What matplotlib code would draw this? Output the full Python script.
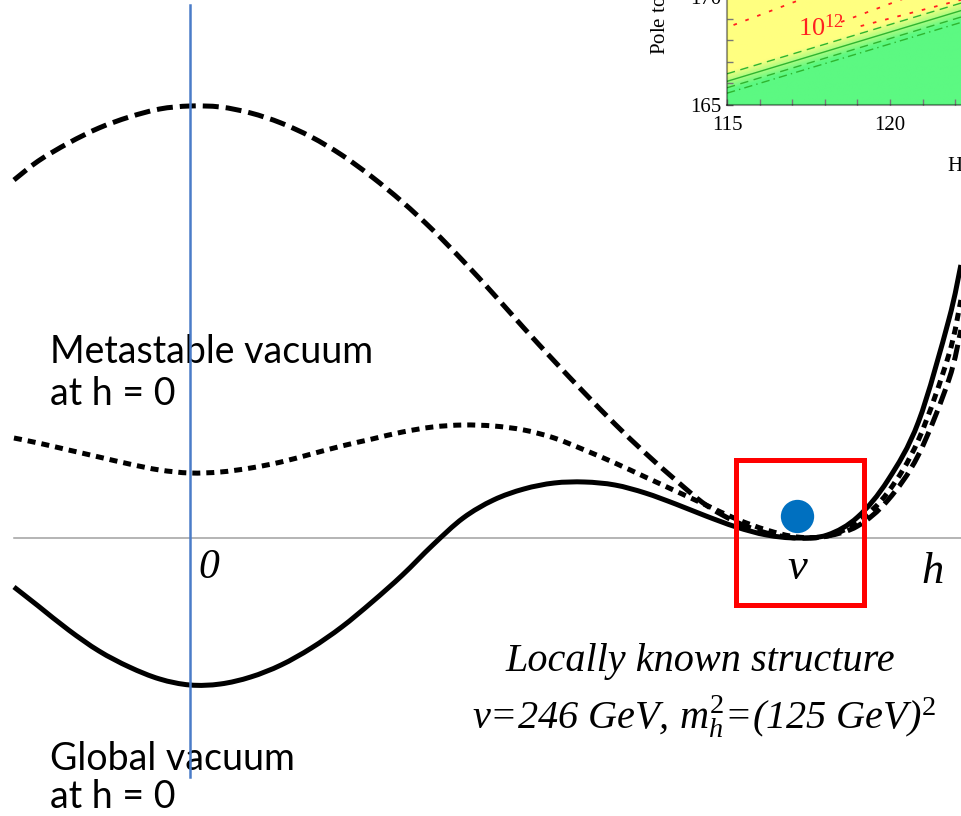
import numpy as np
import matplotlib
matplotlib.use('Agg')
import matplotlib.pyplot as plt
from matplotlib.colors import to_rgb
from matplotlib.patches import Rectangle, PathPatch
from matplotlib.path import Path

plt.rcParams['mathtext.fontset'] = 'custom'
plt.rcParams['mathtext.it'] = 'Liberation Serif:italic'
plt.rcParams['mathtext.rm'] = 'Liberation Serif'

# field value h in units of v, potential in arbitrary units (V(v) = 0)
h = np.array([-0.29, -0.25, -0.20, -0.15, -0.10, -0.05, 0.00, 0.05, 0.10, 0.15,
              0.20, 0.25, 0.30, 0.35, 0.40, 0.45, 0.50, 0.55, 0.60, 0.65,
              0.70, 0.75, 0.80, 0.85, 0.90, 0.95, 1.00, 1.05, 1.10, 1.15,
              1.20, 1.25, 1.27])

# global vacuum at h = 0
V_solid = np.array([-0.49, -0.68, -0.92, -1.13, -1.29, -1.41, -1.47, -1.46, -1.39, -1.27,
                    -1.10, -0.89, -0.64, -0.37, -0.07, 0.20, 0.38, 0.49, 0.55, 0.56,
                    0.53, 0.45, 0.34, 0.22, 0.11, 0.03, 0.00, 0.03, 0.21, 0.58,
                    1.16, 2.18, 2.73])

# metastable vacuum at h = 0
V_dotted = np.array([1.00, 0.95, 0.88, 0.81, 0.74, 0.68, 0.65, 0.66, 0.70, 0.76,
                     0.84, 0.92, 0.99, 1.06, 1.11, 1.13, 1.12, 1.08, 1.00, 0.88,
                     0.75, 0.61, 0.47, 0.33, 0.19, 0.08, 0.01, 0.02, 0.16, 0.46,
                     0.98, 1.83, 2.38])

# h = 0 is a maximum
V_dashed = np.array([3.58, 3.77, 3.95, 4.10, 4.21, 4.29, 4.32, 4.31, 4.25, 4.15,
                     4.01, 3.83, 3.61, 3.36, 3.08, 2.77, 2.44, 2.10, 1.77, 1.45,
                     1.14, 0.85, 0.58, 0.33, 0.16, 0.05, 0.00, 0.02, 0.12, 0.38,
                     0.83, 1.58, 2.08])

h_vev = 1.0
V_ball = 0.22

# inset (stability plot, cropped)
mh_ends = np.array([115.0, 122.2])
mt_green = np.array([166.1, 169.4])
green_offsets = [0.35, -0.30, -0.55]
green_styles = [(0, (6, 4)), (0, (6, 4)), (0, (6, 3, 1, 3))]
red_x = [np.array([115.2, 117.6]), np.array([118.5, 120.6]), np.array([119.1, 122.2])]
red_y = [np.array([168.72, 170.1]), np.array([168.86, 170.05]), np.array([168.67, 169.9])]


def smooth_path(x, y):
    # cubic Bezier pieces through the read points
    P = np.column_stack([x, y])
    Q = np.vstack([P[0], P, P[-1]])
    verts = [P[0]]
    codes = [Path.MOVETO]
    for i in range(len(P) - 1):
        p0, p1, p2, p3 = Q[i], Q[i + 1], Q[i + 2], Q[i + 3]
        verts += [p1 + (p2 - p0) / 6, p2 - (p3 - p1) / 6, p2]
        codes += [Path.CURVE4] * 3
    return Path(verts, codes)


fig = plt.figure(figsize=(9.61, 8.16), dpi=100)
ax = fig.add_axes([0, 0, 1, 1])
ax.set_xlim(-190 / 607, 771 / 607)
ax.set_ylim(-2.78, 5.38)
ax.axis('off')

ax.plot([h[0], 1.27], [0, 0], color='#a0a0a0', lw=1.1, zorder=1)
ax.add_patch(PathPatch(smooth_path(h, V_dashed), fill=False, edgecolor='black', lw=3.6,
                       linestyle=(0, (3.2, 1.4)), capstyle='butt', zorder=3))
ax.add_patch(PathPatch(smooth_path(h, V_dotted), fill=False, edgecolor='black', lw=3.6,
                       linestyle=(0, (1.6, 1.2)), capstyle='butt', zorder=3))
ax.add_patch(PathPatch(smooth_path(h, V_solid), fill=False, edgecolor='black', lw=3.6,
                       capstyle='butt', zorder=4))
ax.plot([0, 0], [-2.39, 5.33], color='#4a7cc8', lw=1.8, zorder=10)

ax.add_patch(Rectangle((0.8987, -0.665), 1.1112 - 0.8987, 0.785 + 0.665,
                       fill=False, edgecolor='#ff0000', lw=3.6, zorder=6))
ax.plot([h_vev], [V_ball], 'o', color='#0070c0', ms=24, mec='none', zorder=7)

serif_it = dict(family='Liberation Serif', style='italic', color='black')
ax.text(0.013, -0.30, '0', fontsize=30, ha='left', va='center', **serif_it)
ax.text(h_vev, -0.30, 'v', fontsize=32, ha='center', va='center', **serif_it)
ax.text(1.224, -0.34, 'h', fontsize=32, ha='center', va='center', **serif_it)
ax.text(0.840, -1.23, 'Locally known structure', fontsize=29, ha='center', va='center', **serif_it)
ax.text(0.846, -1.79, r'v=246 GeV, $m_h^2$=(125 GeV)$^2$', fontsize=29,
        ha='center', va='center', **serif_it)

sans = dict(family='Lato', fontsize=27, color='black', ha='left', va='baseline')
ax.text(-0.2306, 1.75, 'Metastable vacuum', **sans)
ax.text(-0.2306, 1.33, 'at h = 0', **sans)
ax.text(-0.2306, -2.32, 'Global vacuum', **sans)
ax.text(-0.2306, -2.70, 'at h = 0', **sans)

# inset
axi = fig.add_axes([727 / 961, 711 / 816, 273 / 961, 135 / 816])
xlim = (115, 115 + 273 / 32.6)
ylim = (165, 165 + 135 / 21.5)
axi.set_xlim(xlim)
axi.set_ylim(ylim)
axi.set_facecolor('#ffff80')

slope = (mt_green[1] - mt_green[0]) / (mh_ends[1] - mh_ends[0])
X, Y = np.meshgrid(np.linspace(xlim[0], xlim[1], 300), np.linspace(ylim[0], ylim[1], 200))
d = Y - (mt_green[0] + slope * (X - mh_ends[0]))
t = np.clip((d + 0.45) / 0.9, 0, 1)[..., None]
yellow = np.array(to_rgb('#ffff80'))
green = np.array(to_rgb('#5cf982'))
img = green * (1 - t) + yellow * t
axi.imshow(img, extent=[xlim[0], xlim[1], ylim[0], ylim[1]], origin='lower',
           aspect='auto', interpolation='bilinear', zorder=0)

axi.plot(mh_ends, mt_green, color='#2fb52f', lw=1.0)
for off, ls in zip(green_offsets, green_styles):
    axi.plot(mh_ends, mt_green + off, color='#2fb52f', lw=1.0, linestyle=ls)
for rx, ry in zip(red_x, red_y):
    axi.plot(rx, ry, color='#ff2020', lw=1.3, linestyle=(0, (2, 5)))
axi.text(117.18, 168.53, r'$10^{12}$', color='#ff2020', fontsize=19, ha='left', va='center')

axi.set_xticks([115, 120])
axi.set_xticks(np.arange(115, 124), minor=True)
axi.set_yticks([165, 170])
axi.set_yticks(np.arange(165, 172), minor=True)
axi.tick_params(which='both', direction='in', length=4, color='#777777', width=1)
axi.tick_params(axis='x', pad=8)
axi.tick_params(axis='y', pad=4)
for lab in axi.get_xticklabels() + axi.get_yticklabels():
    lab.set_family('Liberation Serif')
    lab.set_fontsize(15)
for side in ['top', 'right']:
    axi.spines[side].set_visible(False)
for side in ['left', 'bottom']:
    axi.spines[side].set_color((0, 0, 0, 0.4))
    axi.spines[side].set_linewidth(1.5)

fig.text(660 / 961, 1 - 55 / 816, 'Pole top mass $M_t$ in GeV', rotation=90,
         family='Liberation Serif', fontsize=15, ha='center', va='bottom')
fig.text(947 / 961, 1 - 166 / 816, 'Higgs mass $M_h$ in GeV', family='Liberation Serif',
         fontsize=15, ha='left', va='center')

fig.savefig('out.png', dpi=100)
